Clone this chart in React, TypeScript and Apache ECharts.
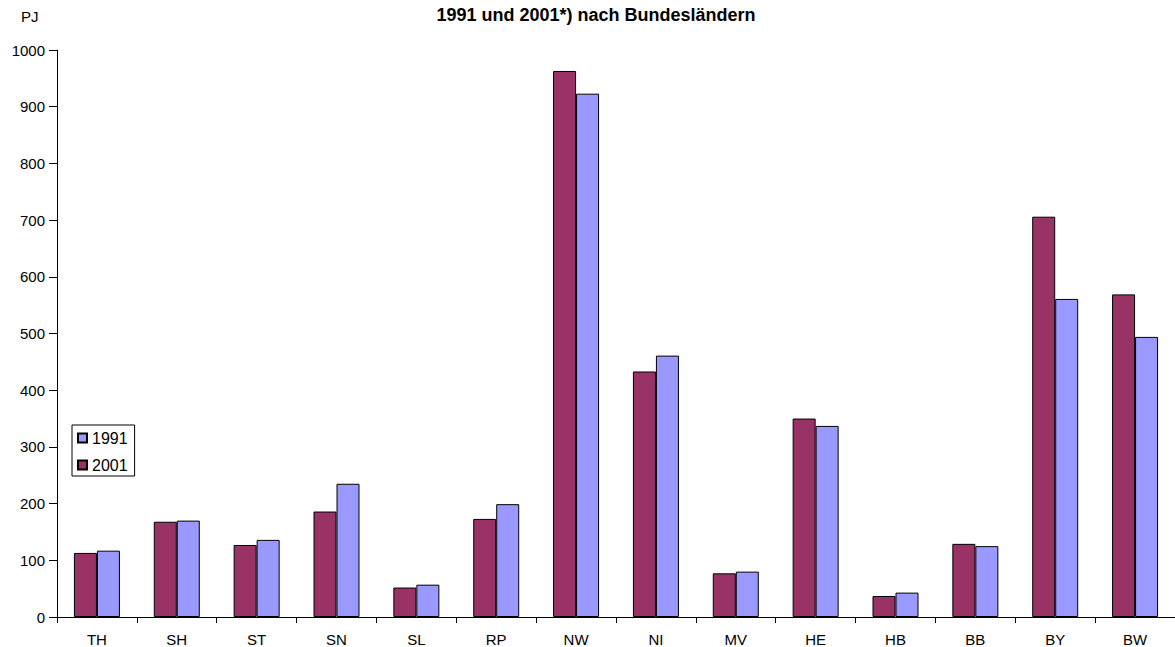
import React, { useEffect, useRef } from "react";
import * as echarts from "echarts";

const categories = ["TH", "SH", "ST", "SN", "SL", "RP", "NW", "NI", "MV", "HE", "HB", "BB", "BY", "BW"];
const values2001 = [113, 168, 127, 186, 52, 173, 963, 433, 77, 350, 37, 129, 706, 569];
const values1991 = [117, 170, 136, 235, 57, 199, 923, 461, 80, 337, 43, 125, 561, 494];
const titleText = "1991 und 2001*) nach Bundesländern";
const unitText = "PJ";

export default function App() {
  const ref = useRef<HTMLDivElement>(null);
  useEffect(() => {
    if (!ref.current) return;
    const chart = echarts.init(ref.current, null, { renderer: "svg" });
    const font = "Liberation Sans, Arial, sans-serif";
    chart.setOption({
      animation: false,
      backgroundColor: "#fff",
      textStyle: { fontFamily: font },
      graphic: [
        {
          type: "text",
          x: 596,
          y: 6,
          style: { text: titleText, font: `bold 18px ${font}`, fill: "#000", textAlign: "center" },
        },
        {
          type: "text",
          x: 21,
          y: 9,
          style: { text: unitText, font: `15px ${font}`, fill: "#000" },
        },
      ],
      legend: {
        orient: "vertical",
        left: 72,
        top: 425,
        data: ["1991", "2001"],
        backgroundColor: "#fff",
        borderColor: "#000",
        borderWidth: 1,
        borderRadius: 0,
        padding: [5, 7, 3, 5],
        itemWidth: 9,
        itemHeight: 9,
        itemGap: 11,
        icon: "rect",
        textStyle: { fontSize: 16, color: "#000", fontFamily: font },
      },
      grid: { left: 57, right: -10, top: 50, bottom: 30, containLabel: false },
      xAxis: {
        type: "category",
        data: categories,
        axisLine: { lineStyle: { color: "#000", width: 1 } },
        axisTick: { show: true, alignWithLabel: false, length: 6, lineStyle: { color: "#000" } },
        axisLabel: { color: "#000", fontSize: 15, margin: 15, fontFamily: font },
      },
      yAxis: {
        type: "value",
        min: 0,
        max: 1000,
        interval: 100,
        splitLine: { show: false },
        axisLine: { show: true, lineStyle: { color: "#000", width: 1 } },
        axisTick: { show: true, length: 8, lineStyle: { color: "#000" } },
        axisLabel: {
          color: "#000",
          fontSize: 15,
          margin: 12,
          fontFamily: font,
          formatter: (v: number) => String(v),
        },
      },
      series: [
        {
          name: "2001",
          type: "bar",
          data: values2001,
          barWidth: 23,
          barGap: "0%",
          itemStyle: { color: "#993366", borderColor: "#000", borderWidth: 1 },
        },
        {
          name: "1991",
          type: "bar",
          data: values1991,
          barWidth: 23,
          barGap: "0%",
          itemStyle: { color: "#9999FF", borderColor: "#000", borderWidth: 1 },
        },
      ],
    });
    return () => chart.dispose();
  }, []);
  return (
    <div
      ref={ref}
      style={{ position: "fixed", left: 0, top: 0, width: 1175, height: 647, background: "#fff" }}
    />
  );
}
